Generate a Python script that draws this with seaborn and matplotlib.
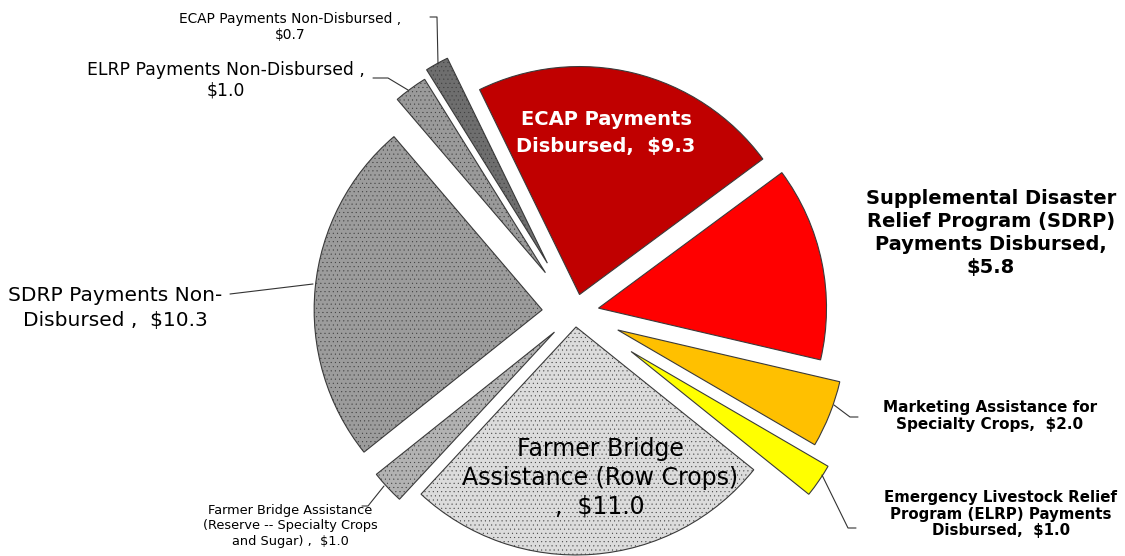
import numpy as np
import matplotlib
matplotlib.use('Agg')
import matplotlib.pyplot as plt
import seaborn as sns

# -- Data --------------------------------------------------------------------
programs = [
    'ECAP Payments Disbursed',
    'Supplemental Disaster Relief Program (SDRP) Payments Disbursed',
    'Marketing Assistance for Specialty Crops',
    'Emergency Livestock Relief Program (ELRP) Payments Disbursed',
    'Farmer Bridge Assistance (Row Crops)',
    'Farmer Bridge Assistance (Reserve -- Specialty Crops and Sugar)',
    'SDRP Payments Non-Disbursed',
    'ELRP Payments Non-Disbursed',
    'ECAP Payments Non-Disbursed',
]
amounts = [9.3, 5.8, 2.0, 1.0, 11.0, 1.0, 10.3, 1.0, 0.7]   # $ billions

# -- Style -------------------------------------------------------------------
slice_colors = ['#C00000', '#FF0000', '#FFC000', '#FFFF00', '#DCDCDC',
                '#B2B2B2', '#9C9C9C', '#9A9A9A', '#6E6E6E']
slice_hatch  = [None, None, None, None, '....', '....', '....', '....', '....']
explode_px   = [19, 24, 46, 68, 14, 28, 33, 50, 57]

sns.set_theme(style='white')
plt.rcParams['font.family'] = ['DejaVu Sans']
plt.rcParams['text.color'] = 'black'
plt.rcParams['hatch.linewidth'] = 0.25
plt.rcParams['hatch.color'] = '#7a7a7a'

W, H = 1125, 556
fig = plt.figure(figsize=(W / 100, H / 100), dpi=100)
ax = fig.add_axes([0, 0, 1, 1])

wedges, _ = ax.pie(amounts, colors=slice_colors, explode=explode_px,
                   startangle=116, counterclock=False,
                   center=(575, H - 313), radius=228,
                   wedgeprops=dict(edgecolor='#3a3a3a', linewidth=0.8))
for w, h in zip(wedges, slice_hatch):
    if h:
        w.set_hatch(h)

ax.set_xlim(0, W)
ax.set_ylim(0, H)
ax.set_aspect('equal')
ax.axis('off')

def y(top):
    return H - top

def money(v):
    return f'${v:.1f}'

LINE = dict(color='#333333', lw=0.8)

# -- Labels ------------------------------------------------------------------
ax.text(606, y(133), f'ECAP Payments\nDisbursed,  {money(amounts[0])}',
        ha='center', va='center', fontsize=14, fontweight='bold',
        color='white', linespacing=1.5)

ax.text(991, y(233),
        f'Supplemental Disaster\nRelief Program (SDRP)\nPayments Disbursed,\n{money(amounts[1])}',
        ha='center', va='center', fontsize=14, fontweight='bold',
        linespacing=1.25)

ax.text(990, y(416), f'Marketing Assistance for\nSpecialty Crops,  {money(amounts[2])}',
        ha='center', va='center', fontsize=11, fontweight='bold', linespacing=1.2)
ax.plot([834, 850, 858], [y(405), y(417), y(417)], **LINE)

ax.text(1001, y(514),
        f'Emergency Livestock Relief\nProgram (ELRP) Payments\nDisbursed,  {money(amounts[3])}',
        ha='center', va='center', fontsize=10.8, fontweight='bold', linespacing=1.15)
ax.plot([822, 848, 856], [y(475), y(528), y(528)], **LINE)

ax.text(600, y(478), f'Farmer Bridge\nAssistance (Row Crops)\n,  {money(amounts[4])}',
        ha='center', va='center', fontsize=17, linespacing=1.25)

ax.text(290, y(526),
        f'Farmer Bridge Assistance\n(Reserve -- Specialty Crops\nand Sugar) ,  {money(amounts[5])}',
        ha='center', va='center', fontsize=9.3, linespacing=1.25)
ax.plot([384, 368, 362], [y(486), y(506), y(506)], **LINE)

ax.text(115, y(308), f'SDRP Payments Non-\nDisbursed ,  {money(amounts[6])}',
        ha='center', va='center', fontsize=14.5, linespacing=1.35)
ax.plot([230, 313], [y(294), y(284)], **LINE)

ax.text(226, y(80), f'ELRP Payments Non-Disbursed ,\n{money(amounts[7])}',
        ha='center', va='center', fontsize=12.4, linespacing=1.15)
ax.plot([373, 388, 408], [y(78), y(78), y(90)], **LINE)

ax.text(290, y(27), f'ECAP Payments Non-Disbursed ,\n{money(amounts[8])}',
        ha='center', va='center', fontsize=9.9, linespacing=1.2)
ax.plot([430, 437, 438], [y(17), y(17), y(64)], **LINE)

plt.savefig('out.png', dpi=100)
plt.close()
